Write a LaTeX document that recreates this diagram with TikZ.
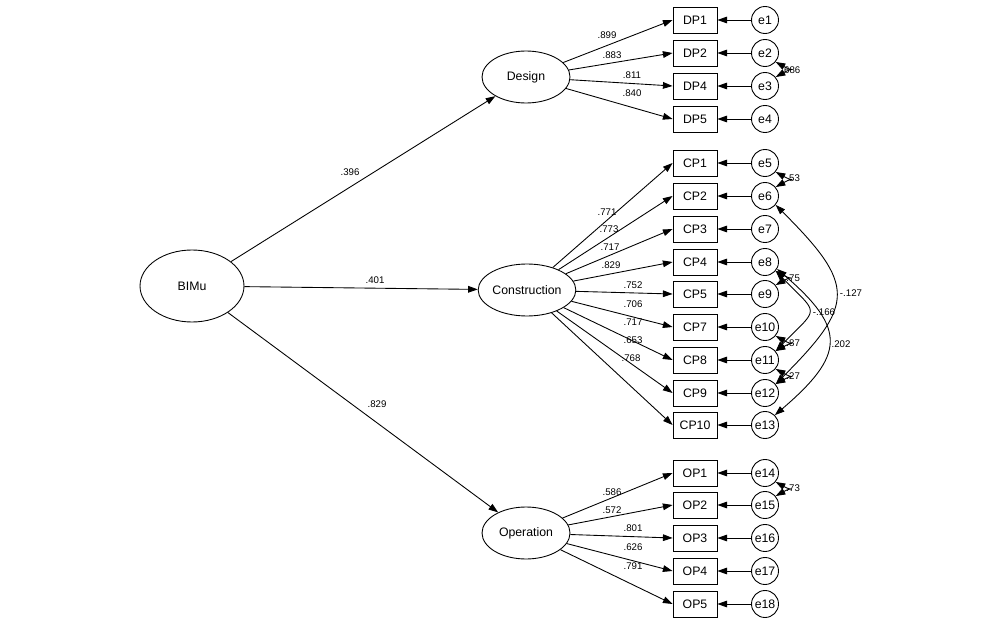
\documentclass[tikz,border=0pt]{standalone}
\usepackage{fontspec}
\setmainfont{Liberation Sans}
\usetikzlibrary{arrows.meta,shapes.geometric}

\tikzset{
  latent/.style={draw, ellipse, minimum width=1.76cm, minimum height=1.04cm, inner sep=0pt, font=\fontsize{7}{8}\selectfont},
  obs/.style={draw, rectangle, minimum width=0.88cm, minimum height=0.52cm, inner sep=0pt, font=\fontsize{7}{8}\selectfont},
  err/.style={draw, circle, minimum size=0.54cm, inner sep=0pt, font=\fontsize{7}{8}\selectfont},
  coef/.style={inner sep=0pt, font=\fontsize{5.5}{6}\selectfont},
  path/.style={-{Triangle[length=5.5pt,width=3.8pt]}},
  cov/.style={{Triangle[length=5.5pt,width=3.8pt]}-{Triangle[length=5.5pt,width=3.8pt]}},
}

\begin{document}
\begin{tikzpicture}[x=0.02cm, y=-0.02cm, line width=0.5pt]
  \useasboundingbox (0,0) rectangle (1007,628);
  % latent factors
  \node[latent, minimum width=2.08cm, minimum height=1.44cm] (bimu) at (192,286) {BIMu};
  \node[latent] (design) at (526,77) {Design};
  \node[latent] (constr) at (527,290) {Construction};
  \node[latent] (oper) at (526,533) {Operation};
  % structural paths
  \draw[path] (bimu) -- (design);
  \draw[path] (bimu) -- (constr);
  \draw[path] (bimu) -- (oper);
  \node[coef] (sdes) at (350,172) {.396};
  \node[coef] (scon) at (375,280) {.401};
  \node[coef] (sope) at (377,404) {.829};
  % design indicators
  \foreach \n/\y/\v/\lx/\ly [count=\i] in {DP1/20/.899/607/35, DP2/53/.883/612/55,
      DP4/86/.811/632/75, DP5/119/.840/632/93} {
    \node[obs] (\n) at (695,\y) {\n};
    \node[err] (e\i) at (765,\y) {e\i};
    \draw[path] (e\i) -- (\n);
    \draw[path] (design) -- (\n.west);
    \node[coef] (l\n) at (\lx,\ly) {\v};
  }
  % construction indicators
  \foreach \n/\y/\v/\lx/\ly [count=\i from 5] in {CP1/163/.771/607/212, CP2/196/.773/609/229,
      CP3/229/.717/610/247, CP4/262/.829/611/265, CP5/294/.752/633/285, CP7/327/.706/633/304,
      CP8/360/.717/633/322, CP9/393/.653/633/340, CP10/425/.768/631/358} {
    \node[obs] (\n) at (695,\y) {\n};
    \node[err] (e\i) at (765,\y) {e\i};
    \draw[path] (e\i) -- (\n);
    \draw[path] (constr) -- (\n.west);
    \node[coef] (l\n) at (\lx,\ly) {\v};
  }
  % operation indicators
  \foreach \n/\y/\v/\lx/\ly [count=\i from 14] in {OP1/473/.586/612/492, OP2/505/.572/612/510,
      OP3/538/.801/633/528, OP4/571/.626/633/547, OP5/604/.791/633/566} {
    \node[obs] (\n) at (695,\y) {\n};
    \node[err] (e\i) at (765,\y) {e\i};
    \draw[path] (e\i) -- (\n);
    \draw[path] (oper) -- (\n.west);
    \node[coef] (l\n) at (\lx,\ly) {\v};
  }
  % error covariances
  \node[coef, anchor=west] (c23) at (781,70) {.686};
  \node[coef, anchor=west] (c56) at (786,178) {.53};
  \node[coef, anchor=west] (c89) at (786,278) {.75};
  \node[coef, anchor=west] (c1011) at (786,343) {.87};
  \node[coef, anchor=west] (c1112) at (786,376) {.27};
  \node[coef, anchor=west] (c1415) at (786,488) {.73};
  \node[coef] (c612) at (851,293) {-.127};
  \node[coef] (c811) at (824,312) {-.166};
  \node[coef] (c813) at (841,344) {.202};
  \draw[cov] (e2.-40) .. controls +(18,10) and +(18,-10) .. (e3.40);
  \draw[cov] (e5.-40) .. controls +(18,10) and +(18,-10) .. (e6.40);
  \draw[cov] (e8.-40) .. controls +(18,10) and +(18,-10) .. (e9.40);
  \draw[cov] (e10.-40) .. controls +(18,10) and +(18,-10) .. (e11.40);
  \draw[cov] (e11.-40) .. controls +(18,10) and +(18,-10) .. (e12.40);
  \draw[cov] (e14.-40) .. controls +(18,10) and +(18,-10) .. (e15.40);
  \draw[cov] (e6.-40) .. controls +(80,80) and +(80,-80) .. (e12.40);
  \draw[cov] (e8.-40) .. controls +(44,45) and +(44,-45) .. (e11.40);
  \draw[cov] (e8.-30) .. controls +(70,60) and +(70,-60) .. (e13.45);
\end{tikzpicture}
\end{document}
